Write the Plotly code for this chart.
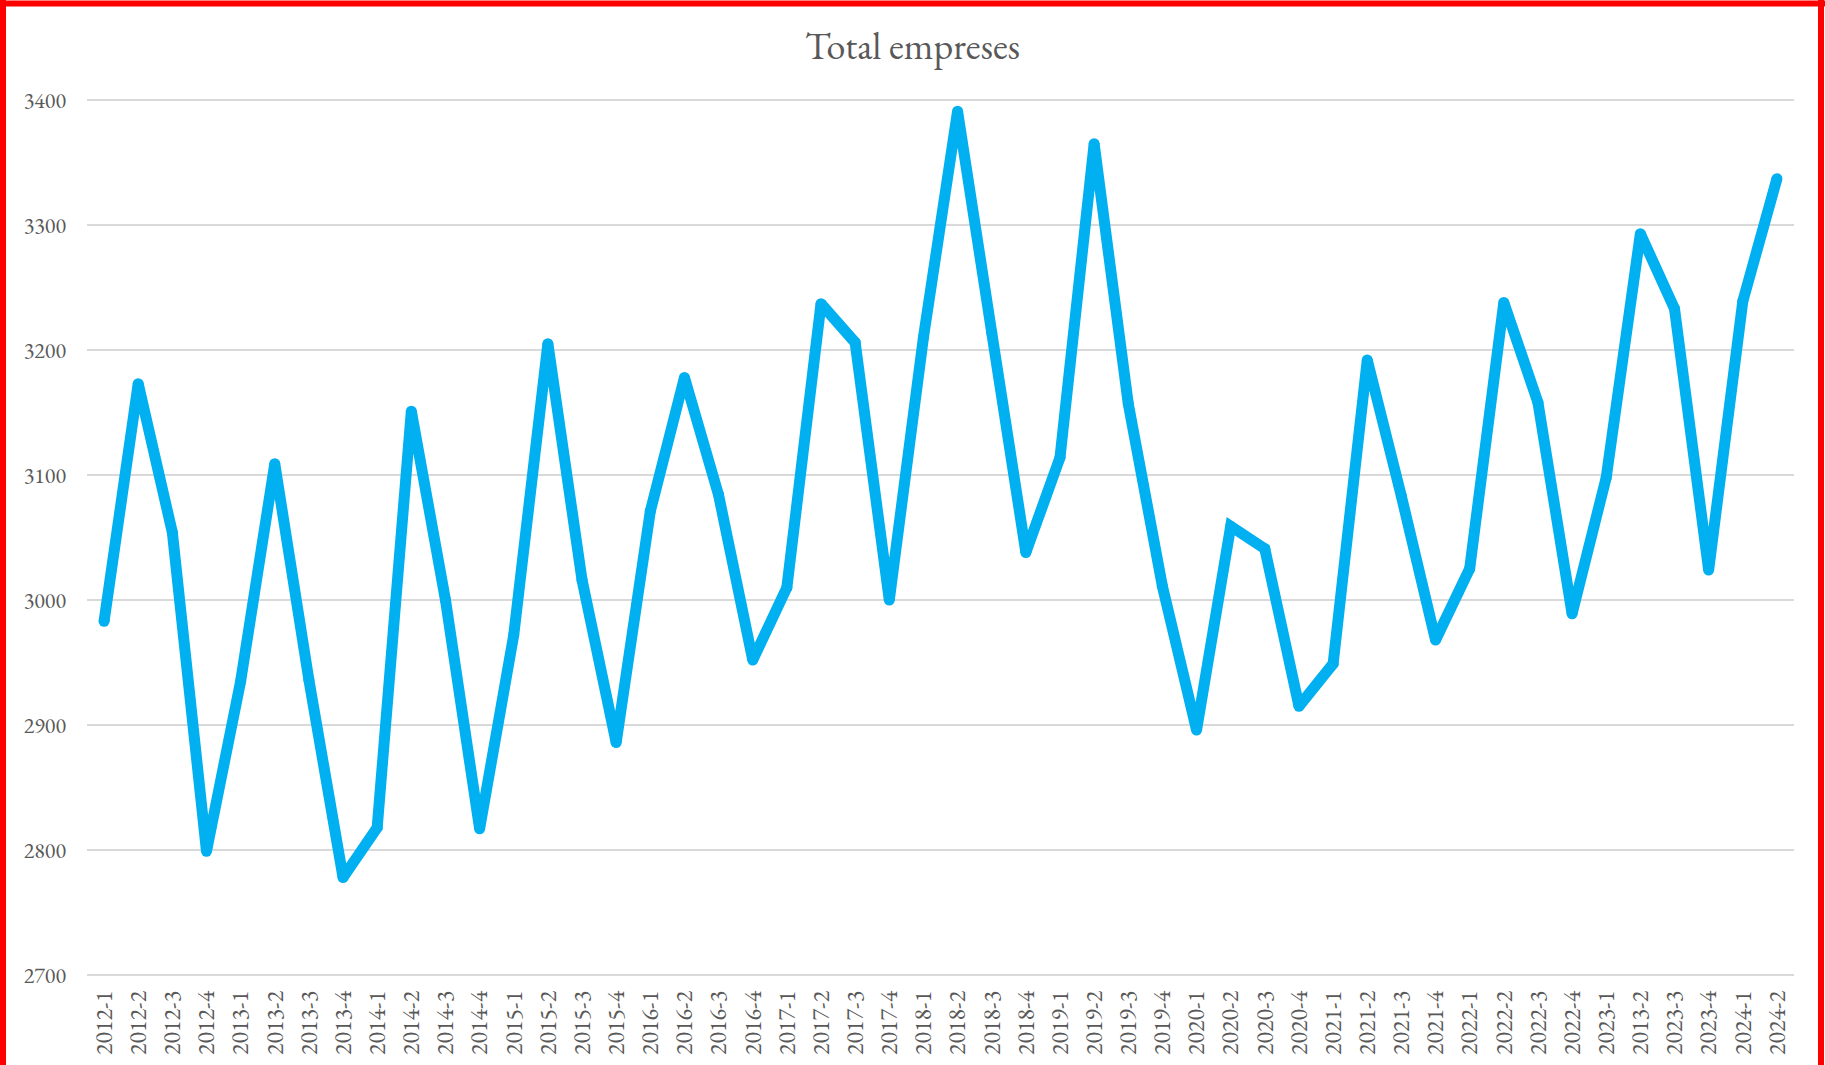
import plotly.graph_objects as go

# quarterly periods as labelled on the original chart (note the "2013-2" typo kept)
periods = [
    "2012-1", "2012-2", "2012-3", "2012-4",
    "2013-1", "2013-2", "2013-3", "2013-4",
    "2014-1", "2014-2", "2014-3", "2014-4",
    "2015-1", "2015-2", "2015-3", "2015-4",
    "2016-1", "2016-2", "2016-3", "2016-4",
    "2017-1", "2017-2", "2017-3", "2017-4",
    "2018-1", "2018-2", "2018-3", "2018-4",
    "2019-1", "2019-2", "2019-3", "2019-4",
    "2020-1", "2020-2", "2020-3", "2020-4",
    "2021-1", "2021-2", "2021-3", "2021-4",
    "2022-1", "2022-2", "2022-3", "2022-4",
    "2023-1", "2013-2", "2023-3", "2023-4",
    "2024-1", "2024-2",
]

total_empreses = [
    2983, 3173, 3054, 2799,
    2935, 3109, 2936, 2778,
    2818, 3151, 3000, 2817,
    2972, 3205, 3016, 2886,
    3071, 3178, 3084, 2952,
    3010, 3237, 3206, 3000,
    3210, 3391, 3214, 3038,
    3114, 3365, 3157, 3011,
    2896, 3059, 3041, 2915,
    2949, 3192, 3083, 2968,
    3025, 3238, 3158, 2989,
    3098, 3293, 3233, 3024,
    3239, 3337,
]

y_ticks = [2700, 2800, 2900, 3000, 3100, 3200, 3300, 3400]

W, H = 1825, 1065
# plot area: 2700 -> y=975, 3400 -> y=100 (125 px per 100); padded 4 units each side
Y_LO, Y_HI = 2696, 3404
M_L, M_R, M_T, M_B = 87, 31, 95, 85
PW, PH = W - M_L - M_R, H - M_T - M_B

SERIF = "EB Garamond, Garamond, Liberation Serif, serif"
GREY = "#595959"


def px_x(x):
    return (x - M_L) / PW


def px_y(y):
    return (H - M_B - y) / PH


idx = list(range(len(periods)))

fig = go.Figure()
fig.add_trace(
    go.Scatter(
        x=idx, y=total_empreses,
        mode="lines+markers",
        line=dict(color="#00B0F0", width=11),
        marker=dict(color="#00B0F0", size=11, line=dict(width=0)),
        name="Total empreses",
        hovertemplate="%{text}: %{y}<extra></extra>",
        text=periods,
    )
)

# red frame around the chart (left, top, right)
frame = dict(type="line", xref="paper", yref="paper",
             line=dict(color="#FF0000", width=6), layer="above")
fig.add_shape(x0=px_x(3), x1=px_x(3), y0=px_y(0), y1=px_y(H), **frame)
fig.add_shape(x0=px_x(0), x1=px_x(W), y0=px_y(3.5), y1=px_y(3.5), **frame)
fig.add_shape(x0=px_x(W - 4), x1=px_x(W - 4), y0=px_y(0), y1=px_y(H), **frame)

fig.update_layout(
    width=W, height=H,
    margin=dict(l=M_L, r=M_R, t=M_T, b=M_B, autoexpand=False),
    paper_bgcolor="white",
    plot_bgcolor="white",
    showlegend=False,
    title=dict(
        text="Total empreses",
        x=0.5, xref="container", xanchor="center",
        y=1 - 46 / H, yanchor="middle",
        font=dict(family=SERIF, size=38, color=GREY),
    ),
)
fig.update_xaxes(
    range=[-0.5, len(periods) - 0.5],
    tickmode="array", tickvals=idx, ticktext=periods,
    tickangle=-90,
    tickfont=dict(family=SERIF, size=24, color=GREY),
    ticklabelstandoff=5,
    showgrid=False, zeroline=False, showline=False,
)
fig.update_yaxes(
    range=[Y_LO, Y_HI],
    tickmode="array", tickvals=y_ticks,
    tickfont=dict(family=SERIF, size=22, color=GREY),
    ticklabelstandoff=20,
    showgrid=True, gridcolor="#D9D9D9", gridwidth=1.5,
    zeroline=False, showline=False,
)

fig.write_html(
    "out.html",
    config={"displayModeBar": False},
    post_script="document.body.style.margin='0';document.body.style.overflow='hidden';",
)
